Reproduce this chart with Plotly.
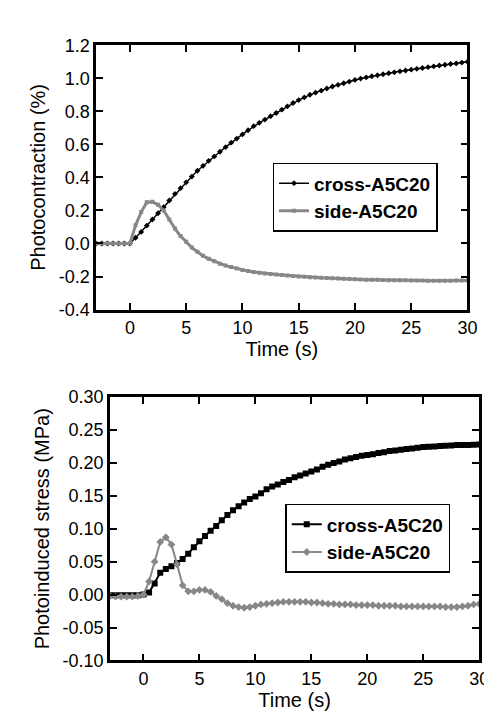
import plotly.graph_objects as go

# ---------------- data ----------------
time_s = [-3.0, -2.5, -2.0, -1.5, -1.0, -0.5, 0.0, 0.5, 1.0, 1.5, 2.0, 2.5, 3.0, 3.5,
          4.0, 4.5, 5.0, 5.5, 6.0, 6.5, 7.0, 7.5, 8.0, 8.5, 9.0, 9.5, 10.0, 10.5,
          11.0, 11.5, 12.0, 12.5, 13.0, 13.5, 14.0, 14.5, 15.0, 15.5, 16.0, 16.5,
          17.0, 17.5, 18.0, 18.5, 19.0, 19.5, 20.0, 20.5, 21.0, 21.5, 22.0, 22.5,
          23.0, 23.5, 24.0, 24.5, 25.0, 25.5, 26.0, 26.5, 27.0, 27.5, 28.0, 28.5,
          29.0, 29.5, 30.0]

contraction_cross = [0, 0, 0, 0, 0, 0, 0, 0.035, 0.07, 0.108, 0.145, 0.183, 0.22, 0.26,
                     0.30, 0.335, 0.37, 0.405, 0.44, 0.47, 0.50, 0.527, 0.555, 0.583,
                     0.61, 0.635, 0.66, 0.685, 0.71, 0.73, 0.75, 0.77, 0.79, 0.81, 0.83,
                     0.85, 0.868, 0.884, 0.90, 0.913, 0.925, 0.938, 0.95, 0.96, 0.97,
                     0.98, 0.99, 0.998, 1.005, 1.012, 1.018, 1.024, 1.03, 1.036, 1.042,
                     1.047, 1.052, 1.057, 1.062, 1.067, 1.072, 1.077, 1.082, 1.086, 1.09,
                     1.095, 1.10]
contraction_side = [0, 0, 0, 0, 0, 0, 0, 0.11, 0.19, 0.25, 0.252, 0.235, 0.20, 0.145,
                    0.09, 0.045, 0.01, -0.025, -0.05, -0.075, -0.093, -0.108, -0.122,
                    -0.134, -0.143, -0.152, -0.16, -0.166, -0.172, -0.177, -0.181, -0.185,
                    -0.188, -0.191, -0.194, -0.197, -0.20, -0.202, -0.204, -0.206, -0.208,
                    -0.209, -0.211, -0.212, -0.214, -0.215, -0.217, -0.218, -0.219, -0.22,
                    -0.22, -0.221, -0.222, -0.222, -0.223, -0.223, -0.224, -0.224, -0.224,
                    -0.225, -0.225, -0.225, -0.225, -0.225, -0.224, -0.224, -0.224]
stress_cross = [-0.001, -0.001, -0.001, -0.001, -0.001, -0.001, 0.0, 0.003, 0.017, 0.033,
                0.039, 0.043, 0.048, 0.054, 0.062, 0.072, 0.081, 0.089, 0.097, 0.104,
                0.113, 0.121, 0.128, 0.134, 0.14, 0.145, 0.149, 0.154, 0.16, 0.164, 0.167,
                0.171, 0.174, 0.178, 0.181, 0.184, 0.187, 0.19, 0.194, 0.197, 0.2, 0.202,
                0.205, 0.207, 0.209, 0.211, 0.212, 0.213, 0.215, 0.216, 0.218, 0.219,
                0.22, 0.221, 0.222, 0.223, 0.224, 0.2245, 0.225, 0.2255, 0.226, 0.2265,
                0.227, 0.227, 0.2272, 0.2275, 0.2278]
stress_side = [-0.002, -0.003, -0.003, -0.003, -0.003, -0.002, 0.0, 0.02, 0.05, 0.08,
               0.087, 0.076, 0.046, 0.014, 0.005, 0.005, 0.007, 0.007, 0.004, -0.002,
               -0.007, -0.013, -0.017, -0.019, -0.02, -0.019, -0.017, -0.015, -0.014,
               -0.013, -0.012, -0.011, -0.011, -0.011, -0.011, -0.011, -0.012, -0.012,
               -0.013, -0.014, -0.014, -0.015, -0.015, -0.015, -0.016, -0.016, -0.016,
               -0.016, -0.017, -0.017, -0.017, -0.017, -0.018, -0.018, -0.018, -0.018,
               -0.018, -0.018, -0.018, -0.018, -0.019, -0.019, -0.019, -0.018, -0.017,
               -0.015, -0.014]

x_ticks = [0, 5, 10, 15, 20, 25, 30]
x_ticklabels = ["0", "5", "10", "15", "20", "25", "30"]
ya_ticks = [-0.4, -0.2, 0.0, 0.2, 0.4, 0.6, 0.8, 1.0, 1.2]
ya_ticklabels = ["-0.4", "-0.2", "0.0", "0.2", "0.4", "0.6", "0.8", "1.0", "1.2"]
yb_ticks = [-0.10, -0.05, 0.0, 0.05, 0.10, 0.15, 0.20, 0.25, 0.30]
yb_ticklabels = ["-0.10", "-0.05", "0.00", "0.05", "0.10", "0.15", "0.20", "0.25", "0.30"]
series_names = ["cross-A5C20", "side-A5C20"]

W, H = 492, 712
FONT = "Liberation Sans, Arial, sans-serif"
GRAY = "#878787"

fig = go.Figure()
fig.add_trace(go.Scatter(x=time_s, y=contraction_cross, name="<b>" + series_names[0] + "</b>",
                         mode="lines+markers", xaxis="x", yaxis="y", legend="legend",
                         line=dict(color="black", width=1.5),
                         marker=dict(symbol="diamond", size=4.5, color="black")))
fig.add_trace(go.Scatter(x=time_s, y=contraction_side, name="<b>" + series_names[1] + "</b>",
                         mode="lines+markers", xaxis="x", yaxis="y", legend="legend",
                         line=dict(color=GRAY, width=3),
                         marker=dict(symbol="square", size=4, color=GRAY)))
fig.add_trace(go.Scatter(x=time_s, y=stress_cross, name="<b>" + series_names[0] + "</b>",
                         mode="lines+markers", xaxis="x2", yaxis="y2", legend="legend2",
                         line=dict(color="black", width=2),
                         marker=dict(symbol="square", size=6, color="black")))
fig.add_trace(go.Scatter(x=time_s, y=stress_side, name="<b>" + series_names[1] + "</b>",
                         mode="lines+markers", xaxis="x2", yaxis="y2", legend="legend2",
                         line=dict(color=GRAY, width=2),
                         marker=dict(symbol="diamond", size=6, color=GRAY)))

def px_x(p):
    return p / W

def px_y(p):
    return 1 - p / H

axis_common = dict(showline=True, linecolor="black", linewidth=2.5, mirror="ticks",
                   ticks="inside", ticklen=7, tickwidth=2, tickcolor="black",
                   showgrid=False, zeroline=False,
                   tickfont=dict(family=FONT, size=18, color="black"),
                   title_font=dict(family=FONT, size=20, color="black"))

fig.update_layout(
    width=W, height=H,
    margin=dict(l=0, r=0, t=0, b=0),
    font=dict(family=FONT, color="black"),
    plot_bgcolor="white",
    xaxis=dict(domain=[px_x(90), px_x(469)], anchor="y", range=[-3, 30],
               tickvals=x_ticks, ticktext=x_ticklabels, title_text="Time (s)",
               title_standoff=4, **axis_common),
    yaxis=dict(domain=[px_y(300), px_y(28)], anchor="x", range=[-0.4, 1.2],
               tickvals=ya_ticks, ticktext=ya_ticklabels, title_text="Photocontraction (%)",
               title_standoff=8, **axis_common),
    xaxis2=dict(domain=[px_x(104), px_x(481)], anchor="y2", range=[-3, 30],
                tickvals=x_ticks, ticktext=x_ticklabels, title_text="Time (s)",
                title_standoff=4, **axis_common),
    yaxis2=dict(domain=[px_y(661), px_y(390)], anchor="x2", range=[-0.1, 0.3],
                tickvals=yb_ticks, ticktext=yb_ticklabels,
                title_text="Photoinduced stress (MPa)", title_standoff=8, **axis_common),
    legend=dict(x=px_x(270), y=px_y(149), xanchor="left", yanchor="top",
                bordercolor="black", borderwidth=1.5, bgcolor="white",
                font=dict(family=FONT, size=19, color="black")),
    legend2=dict(x=px_x(283), y=px_y(500), xanchor="left", yanchor="top",
                 bordercolor="black", borderwidth=1.5, bgcolor="white",
                 font=dict(family=FONT, size=19, color="black")),
    showlegend=True,
)

fig.write_html("out.html")
